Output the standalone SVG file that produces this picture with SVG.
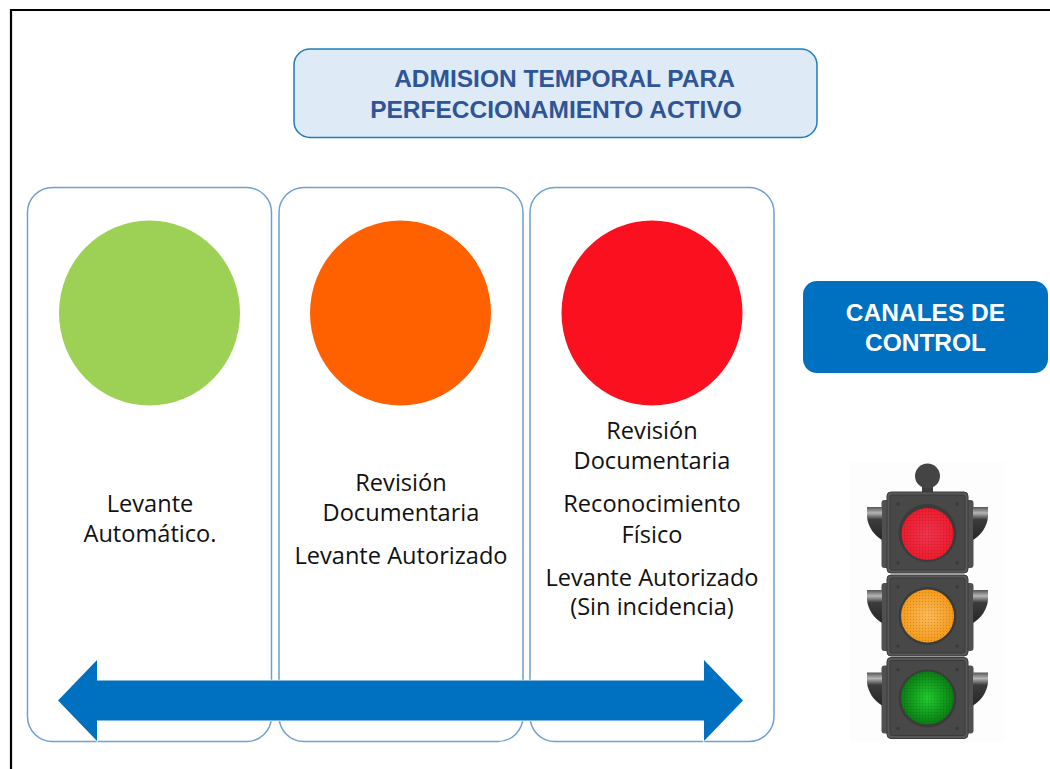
<svg xmlns="http://www.w3.org/2000/svg" width="1050" height="769" viewBox="0 0 1050 769">
<defs>
<style>
.card{fill:#fff;stroke:#6f9fd0;stroke-width:1.5}
.t{font-family:"Open Sans","Noto Sans",sans-serif;font-size:23.6px;fill:#111;text-anchor:middle}
.h{font-family:"Liberation Sans",Arial,sans-serif;font-weight:700;font-size:24.5px;text-anchor:middle}
.body{fill:#585858;stroke:#3a3a3a;stroke-width:1}
.face{fill:#484848;stroke:#3a3a3a;stroke-width:1}
.back{fill:#505050}
.ring{fill:#3b3b3b}
.bolt{fill:#3a3a3a}
</style>
<linearGradient id="visor" x1="0" y1="0" x2="0" y2="1">
<stop offset="0" stop-color="#555"/><stop offset=".18" stop-color="#b5b5b5"/><stop offset=".38" stop-color="#3c3c3c"/><stop offset="1" stop-color="#262626"/>
</linearGradient>
<radialGradient id="r"><stop offset="0" stop-color="#f0344e"/><stop offset="1" stop-color="#ee1c2e"/></radialGradient>
<radialGradient id="a"><stop offset="0" stop-color="#fdbb58"/><stop offset="1" stop-color="#f79c1c"/></radialGradient>
<radialGradient id="g"><stop offset="0" stop-color="#20cc2e"/><stop offset="1" stop-color="#0a7e14"/></radialGradient>
<pattern id="dots" width="3" height="3" patternUnits="userSpaceOnUse"><circle cx="1.500" cy="1.500" r=".7" fill="#000" opacity=".16"/></pattern>
<g id="visorL"><path d="M882 0H867V10C868 20 874 28 882 33Z" fill="url(#visor)"/></g>
<g id="head">
<rect class="back" x="881.500" y="8" width="92" height="68" rx="3"/>
<use href="#visorL" y="15"/>
<use href="#visorL" transform="translate(1855 15) scale(-1 1)"/>
<rect class="body" x="887" y="0" width="81" height="81" rx="4"/>
<rect class="face" x="890" y="3" width="75" height="75" rx="2"/>
<circle class="ring" cx="927.500" cy="41" r="29"/>
<circle class="bolt" cx="898" cy="12" r="1.800"/><circle class="bolt" cx="957" cy="12" r="1.800"/>
<circle class="bolt" cx="898" cy="71" r="1.800"/><circle class="bolt" cx="957" cy="71" r="1.800"/>
</g>
</defs>
<rect width="1050" height="769" fill="#fff"/>
<path d="M11 769V10H1050" fill="none" stroke="#000" stroke-width="2.2"/>
<g id="title"><rect x="294" y="49" width="523" height="88.500" rx="16" fill="#deeaf6" stroke="#1f7cc0" stroke-width="1.500"/>
<text class="h" x="564.500" y="87" fill="#2f5597">ADMISION TEMPORAL PARA</text>
<text class="h" x="556" y="118" fill="#2f5597">PERFECCIONAMIENTO ACTIVO</text></g>
<g id="card-green"><rect class="card" x="27.500" y="187.500" width="244" height="554" rx="25"/>
<ellipse cx="149.500" cy="313" rx="90.500" ry="92.500" fill="#9dd155"/>
<text class="t" x="150" y="512">Levante</text><text class="t" x="150" y="542">Automático.</text></g>
<g id="card-orange"><rect class="card" x="279" y="187.500" width="244" height="554" rx="25"/>
<ellipse cx="400.500" cy="313" rx="90.500" ry="92.500" fill="#ff6000"/>
<text class="t" x="401" y="491">Revisión</text><text class="t" x="401" y="521">Documentaria</text><text class="t" x="401" y="564">Levante Autorizado</text></g>
<g id="card-red"><rect class="card" x="530" y="187.500" width="244" height="554" rx="25"/>
<ellipse cx="652" cy="313" rx="90.500" ry="92.500" fill="#fb1020"/>
<text class="t" x="652" y="439">Revisión</text><text class="t" x="652" y="469">Documentaria</text>
<text class="t" x="652" y="512">Reconocimiento</text><text class="t" x="652" y="543">Físico</text>
<text class="t" x="652" y="586">Levante Autorizado</text><text class="t" x="652" y="615">(Sin incidencia)</text></g>
<g id="connectors"><path id="double-arrow" d="M58 700.500L97 660V680.500H704V660L743 700.500L704 741V720.500H97V741Z" fill="#0070c0" stroke="#fff" stroke-width="1.500" paint-order="stroke"/></g>
<g id="channels"><rect x="803" y="281" width="245" height="92" rx="14" fill="#0070c0"/>
<text class="h" x="925.500" y="321" fill="#fff">CANALES DE</text><text class="h" x="925.500" y="351" fill="#fff">CONTROL</text></g>
<g id="traffic-light">
<rect x="850" y="462" width="154" height="280" fill="#fdfdfd"/>
<rect x="922" y="485" width="11" height="9" fill="#3c3c3c"/>
<circle cx="927.500" cy="476" r="12.500" fill="#444"/>
<use href="#head" y="492"/><use href="#head" y="575"/><use href="#head" y="657.500"/>
<circle cx="927.500" cy="534" r="26" fill="url(#r)"/><circle cx="927.500" cy="534" r="26" fill="url(#dots)"/>
<circle cx="927.500" cy="616" r="26.500" fill="url(#a)"/><circle cx="927.500" cy="616" r="26.500" fill="url(#dots)"/>
<circle cx="927.500" cy="698" r="26.500" fill="url(#g)"/><circle cx="927.500" cy="698" r="26.500" fill="url(#dots)"/>
</g>
</svg>
